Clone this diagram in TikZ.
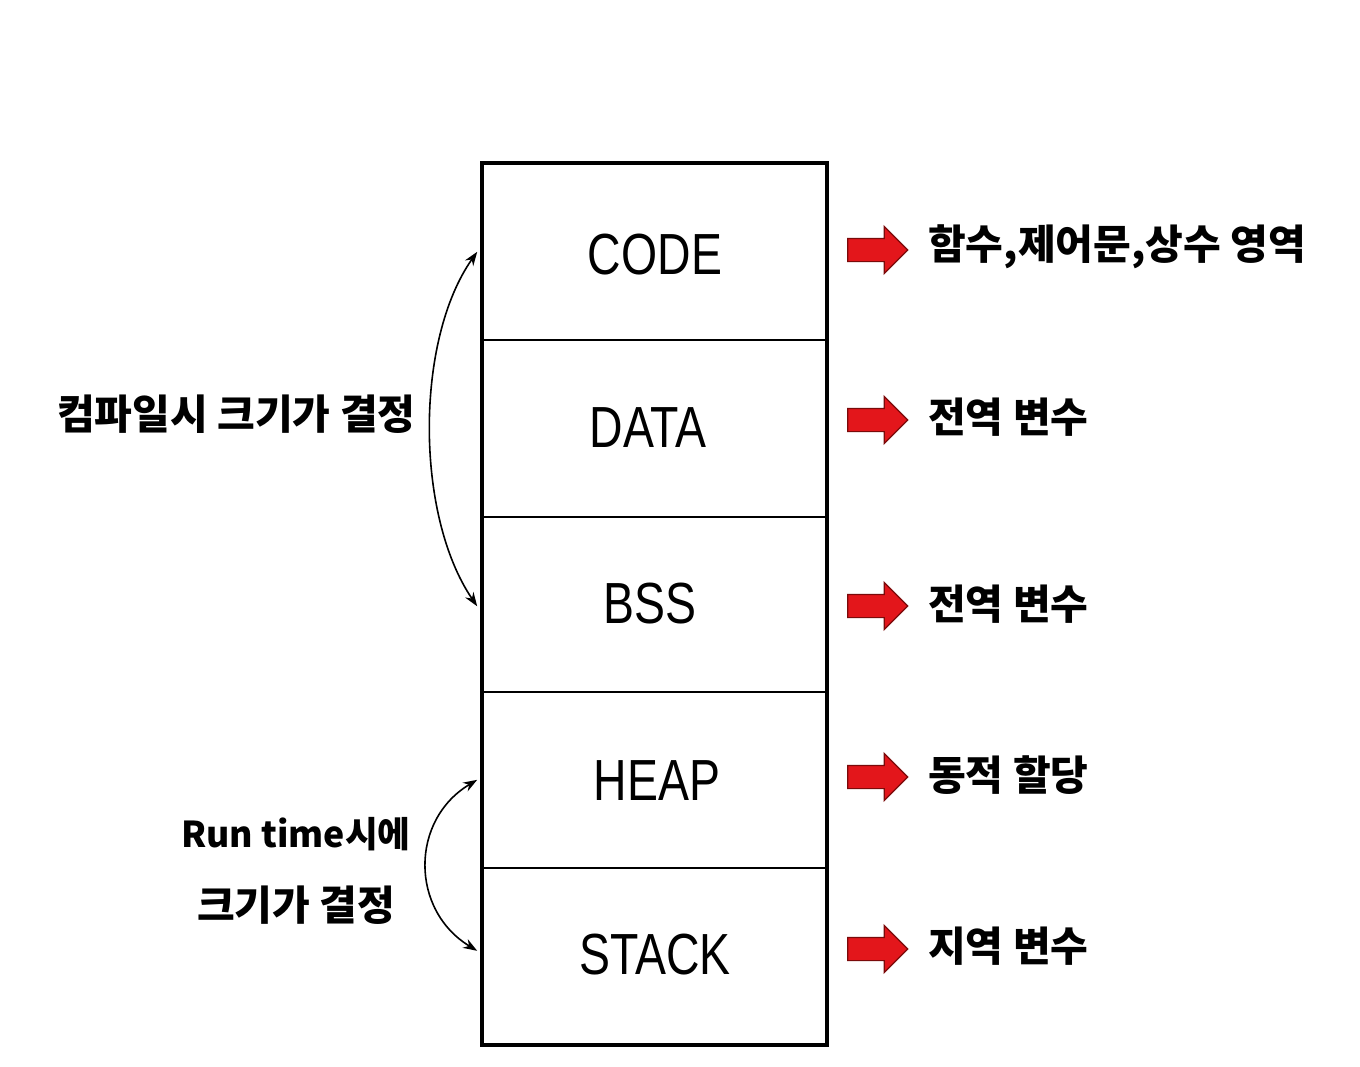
\documentclass[tikz,border=0pt]{standalone}
\usepackage{fontspec}
\setmainfont{Liberation Sans}
\newfontfamily\kr{Noto Sans CJK KR}
\usetikzlibrary{shapes.arrows,arrows.meta}
\definecolor{arrred}{HTML}{E3161B}
\definecolor{arredge}{HTML}{7A0A0A}
\tikzset{
  seg/.style={draw, line width=1.6pt, minimum width=343pt, inner sep=0pt, anchor=north},
  segtext/.style={font=\fontsize{58}{60}\selectfont},
  redarrow/.style={single arrow, draw=arredge, fill=arrred, line width=1.2pt,
     minimum height=60pt, minimum width=46pt, single arrow head extend=12pt, inner sep=11pt},
  krlabel/.style={font=\kr\bfseries\fontsize{41}{44}\selectfont, anchor=west, inner sep=0pt},
  curve/.style={line width=1.6pt, {Stealth[length=14pt,width=10pt]}-{Stealth[length=14pt,width=10pt]}}
}
\newcommand{\segtxt}[1]{\scalebox{0.8}[1]{#1}}
\begin{document}
\begin{tikzpicture}[x=1pt,y=-1pt]
\useasboundingbox (0,0) rectangle (1360,1066);
\fill[white] (0,0) rectangle (1360,1066);
% segments
\node[seg, minimum height=176pt] (code) at (654.5,163) {};
\node[seg, minimum height=177pt] (data) at (654.5,339) {};
\node[seg, minimum height=175pt] (bss) at (654.5,516) {};
\node[seg, minimum height=176pt] (heap) at (654.5,691) {};
\node[seg, minimum height=176pt] (stack) at (654.5,867) {};
\draw[line width=4pt] (code.north west) rectangle (stack.south east);
% segment texts
\node[segtext] (tcode) at (655,255) {\segtxt{CODE}};
\node[segtext] (tdata) at (648,428) {\segtxt{DATA}};
\node[segtext] (tbss) at (650,604) {\segtxt{BSS}};
\node[segtext] (theap) at (657,781) {\segtxt{HEAP}};
\node[segtext] (tstack) at (655,955) {\segtxt{STACK}};
% red arrows
\node[redarrow] (a1) at (872,250) {};
\node[redarrow] (a2) at (872,420) {};
\node[redarrow] (a3) at (872,606) {};
\node[redarrow] (a4) at (872,777) {};
\node[redarrow] (a5) at (872,949) {};
% right labels
\node[krlabel] (l1) at (928,247) {함수,제어문,상수 영역};
\node[krlabel] (l2) at (928,417) {전역 변수};
\node[krlabel] (l3) at (928,604) {전역 변수};
\node[krlabel] (l4) at (928,775) {동적 할당};
\node[krlabel] (l5) at (928,946) {지역 변수};
% left labels
\node[krlabel] (left1) at (57,414) {컴파일시 크기가 결정};
\node[krlabel, anchor=center] (left2) at (296,834) {\scalebox{0.87}{Run time시에}};
\node[krlabel] (left3) at (197,905) {크기가 결정};
% curved arrows
\draw[curve] ([xshift=-5pt]code.west) .. controls (415,340) and (415,515) .. ([xshift=-5pt,yshift=-2pt]bss.west);
\draw[curve] ([xshift=-5pt]heap.west) .. controls (410,820) and (410,910) .. ([xshift=-5pt,yshift=5pt]stack.west);
\end{tikzpicture}
\end{document}
